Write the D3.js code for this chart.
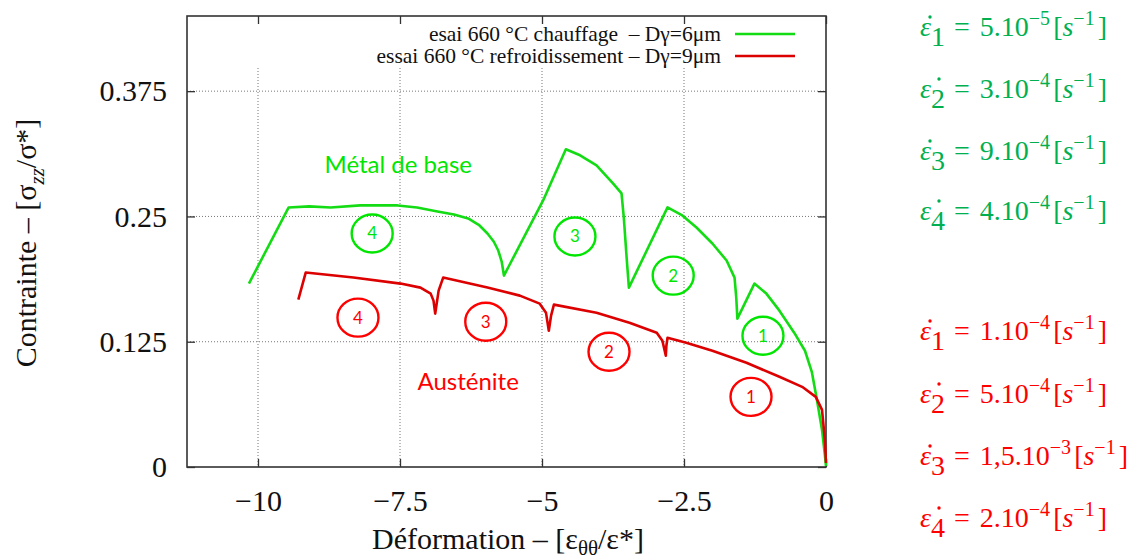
<!DOCTYPE html>
<html><head><meta charset="utf-8">
<script src="https://cdn.jsdelivr.net/npm/d3@7"></script>
<style>body{margin:0;background:#fff}svg{display:block}</style>
</head><body>
<svg id="chart" width="1138" height="560"></svg>
<script>
// ---- data ----
const xTicks = [-10, -7.5, -5, -2.5, 0];
const yTicks = [0, 0.125, 0.25, 0.375];
const xGrid = [-10, -7.5, -5, -2.5];
const yGrid = [0.125, 0.25, 0.375];

// essai 660 °C chauffage (green) : [deformation, contrainte]
const chauffage = [
 [-10.16,0.183],[-9.46,0.259],[-9.1,0.260],[-8.72,0.259],[-8.2,0.261],[-7.54,0.261],
 [-7.2,0.259],[-6.84,0.255],[-6.55,0.252],[-6.30,0.248],[-6.10,0.241],[-5.96,0.233],
 [-5.85,0.225],[-5.77,0.216],[-5.71,0.205],[-5.67,0.191],[-4.98,0.266],[-4.58,0.317],
 [-4.33,0.311],[-4.04,0.301],[-3.75,0.283],[-3.60,0.273],[-3.56,0.249],[-3.51,0.209],
 [-3.47,0.179],[-2.79,0.259],[-2.53,0.251],[-2.28,0.239],[-2.00,0.223],[-1.75,0.206],
 [-1.61,0.189],[-1.58,0.169],[-1.56,0.148],[-1.26,0.183],[-1.05,0.173],[-0.82,0.156],
 [-0.56,0.134],[-0.37,0.116],[-0.25,0.095],[-0.16,0.067],[-0.07,0.037],[-0.02,0.012],[0,0.001]
];
// essai 660 °C refroidissement (red)
const refroidissement = [
 [-9.29,0.167],[-9.16,0.194],[-8.32,0.189],[-7.49,0.183],[-7.14,0.179],[-6.96,0.173],
 [-6.91,0.166],[-6.88,0.153],[-6.82,0.176],[-6.74,0.189],[-5.96,0.179],[-5.39,0.171],
 [-5.04,0.163],[-4.93,0.154],[-4.88,0.136],[-4.84,0.151],[-4.79,0.162],[-4.04,0.154],
 [-3.46,0.144],[-2.98,0.134],[-2.88,0.126],[-2.82,0.111],[-2.81,0.121],[-2.79,0.129],
 [-2.46,0.124],[-2.00,0.116],[-1.40,0.104],[-0.82,0.090],[-0.42,0.080],[-0.18,0.070],
 [-0.07,0.057],[-0.02,0.027],[0,0.004]
];
const legendLabels = ["esai 660 °C chauffage  – Dγ=6μm", "essai 660 °C refroidissement – Dγ=9μm"];

// circled step numbers [x, y, label]
const greenSteps = [[-7.99,0.233,"4"],[-4.42,0.230,"3"],[-2.69,0.191,"2"],[-1.11,0.131,"1"]];
const redSteps = [[-8.24,0.149,"4"],[-5.99,0.145,"3"],[-3.82,0.115,"2"],[-1.32,0.070,"1"]];
const regionLabels = [[-7.53,0.301,"Métal de base","g"],[-6.30,0.085,"Austénite","r"]];

// strain rates
const greenRateSub = ["1","2","3","4"];
const greenRateMant = ["5.10","3.10","9.10","4.10"];
const greenRateExp = ["−5","−4","−4","−4"];
const redRateSub = ["1","2","3","4"];
const redRateMant = ["1.10","5.10","1,5.10","2.10"];
const redRateExp = ["−4","−4","−3","−4"];

// ---- layout ----
const svg = d3.select("#chart");
const L = 187, R = 826, T = 16, B = 467;
const x = d3.scaleLinear().domain([-11.25, 0]).range([L, R]);
const y = d3.scaleLinear().domain([0, 0.45]).range([B, T]);
const GREEN = "#14dc14", RED = "#dc0000";
const ANN_G = "#00e600", ANN_R = "#ff0000";
const serif = "'Liberation Serif','Times New Roman',serif";
const fmt = d3.format("");

// grid
const grid = svg.append("g");
grid.selectAll("line.gx").data(xGrid).join("line")
  .attr("x1", d => x(d)).attr("x2", d => x(d)).attr("y1", 68).attr("y2", B)
  .attr("stroke", "#777").attr("stroke-width", 1).attr("stroke-dasharray", "1,2");
grid.selectAll("line.gy").data(yGrid).join("line")
  .attr("x1", L).attr("x2", R).attr("y1", d => y(d)).attr("y2", d => y(d))
  .attr("stroke", "#777").attr("stroke-width", 1).attr("stroke-dasharray", "1,2");

// axes
function styleAxis(g){
  g.select(".domain").remove();
  g.selectAll(".tick line").attr("stroke", "#333").attr("stroke-width", 1.3);
  g.selectAll("text").attr("font-family", serif).attr("font-size", 30).attr("fill", "#111");
}
svg.append("g").attr("transform", `translate(0,${B})`)
  .call(d3.axisBottom(x).tickValues(xTicks).tickSize(-8).tickPadding(23).tickFormat(fmt)).call(styleAxis);
svg.append("g").attr("transform", `translate(0,${T})`)
  .call(d3.axisTop(x).tickValues(xTicks).tickSize(-8).tickFormat("")).call(styleAxis);
svg.append("g").attr("transform", `translate(${L},0)`)
  .call(d3.axisLeft(y).tickValues(yTicks).tickSize(-8).tickPadding(20).tickFormat(fmt)).call(styleAxis);
svg.append("g").attr("transform", `translate(${R},0)`)
  .call(d3.axisRight(y).tickValues(yTicks).tickSize(-8).tickFormat("")).call(styleAxis);

svg.append("rect").attr("x", L).attr("y", T).attr("width", R - L).attr("height", B - T)
  .attr("fill", "none").attr("stroke", "#333").attr("stroke-width", 1.6);

// curves
const line = d3.line().x(d => x(d[0])).y(d => y(d[1]));
svg.append("path").datum(chauffage).attr("d", line).attr("fill", "none")
  .attr("stroke", GREEN).attr("stroke-width", 2.6).attr("stroke-linejoin", "round");
svg.append("path").datum(refroidissement).attr("d", line).attr("fill", "none")
  .attr("stroke", RED).attr("stroke-width", 2.6).attr("stroke-linejoin", "round");

// legend
const lg = svg.append("g");
[GREEN, RED].forEach((c, i) => {
  lg.append("text").attr("x", 721).attr("y", 41 + i * 22).attr("text-anchor", "end")
    .style("white-space", "pre")
    .attr("font-family", serif).attr("font-size", 21.5).attr("fill", "#111").text(legendLabels[i]);
  lg.append("line").attr("x1", 735).attr("x2", 795).attr("y1", 34 + i * 22).attr("y2", 34 + i * 22)
    .attr("stroke", c).attr("stroke-width", 2.6);
});

// circled numbers
const sans = "'Lato','Open Sans',sans-serif";
function steps(data, color){
  const g = svg.append("g");
  g.selectAll("ellipse").data(data).join("ellipse")
    .attr("cx", d => x(d[0])).attr("cy", d => y(d[1])).attr("rx", 20.5).attr("ry", 19)
    .attr("fill", "none").attr("stroke", color).attr("stroke-width", 2.4);
  g.selectAll("text").data(data).join("text")
    .attr("x", d => x(d[0])).attr("y", d => y(d[1]) + 6).attr("text-anchor", "middle")
    .attr("font-family", sans).attr("font-size", 17).attr("fill", color).text(d => d[2]);
}
steps(greenSteps, ANN_G);
steps(redSteps, ANN_R);

svg.selectAll("text.region").data(regionLabels).join("text").attr("class", "region")
  .attr("x", d => x(d[0])).attr("y", d => y(d[1]) + 8).attr("text-anchor", "middle")
  .attr("font-family", sans).attr("font-size", 24).attr("fill", d => d[3] === "g" ? ANN_G : ANN_R)
  .text(d => d[2]);

// axis titles
const xt = svg.append("text").attr("x", 508).attr("y", 549).attr("text-anchor", "middle")
  .attr("font-family", serif).attr("font-size", 30).attr("fill", "#111");
xt.append("tspan").text("Déformation – [ε");
xt.append("tspan").attr("font-size", 21).attr("dy", 6).text("θθ");
xt.append("tspan").attr("dy", -6).text("/ε*]");

const yt = svg.append("text").attr("transform", "translate(36,243) rotate(-90)").attr("text-anchor", "middle")
  .attr("font-family", serif).attr("font-size", 30).attr("fill", "#111");
yt.append("tspan").text("Contrainte – [σ");
yt.append("tspan").attr("font-size", 21).attr("font-style", "italic").attr("dy", 8).text("zz");
yt.append("tspan").attr("dy", -8).text("/σ*]");

// strain-rate equations
function rates(subs, mants, exps, baselines, color, dotShifts){
  subs.forEach((s, i) => {
    const yb = baselines[i];
    const t = svg.append("text").attr("x", 920).attr("y", yb)
      .attr("font-family", serif).attr("font-size", 28).attr("fill", color);
    t.append("tspan").attr("font-style", "italic").text("ε");
    t.append("tspan").attr("dy", 10).text(s);
    t.append("tspan").attr("dy", -10).attr("dx", 9).text("=");
    t.append("tspan").attr("dx", 10).text(mants[i]);
    t.append("tspan").attr("font-size", 20).attr("dy", -11).text(exps[i]);
    t.append("tspan").attr("font-size", 28).attr("dy", 11).attr("dx", 3).text("[");
    t.append("tspan").attr("font-style", "italic").text("s");
    t.append("tspan").attr("font-size", 20).attr("dy", -11).text("−1");
    t.append("tspan").attr("font-size", 28).attr("dy", 11).attr("dx", 3).text("]");
    // dot accent of the time derivative
    svg.append("circle").attr("cx", 930 + dotShifts[i]).attr("cy", yb - 19).attr("r", 1.7)
      .attr("fill", color);
  });
}
rates(greenRateSub, greenRateMant, greenRateExp, [36, 98, 160, 220], "#00b050", [0, 9, 0, 9]);
rates(redRateSub, redRateMant, redRateExp, [340, 403, 465, 527], "#ff0000", [0, 9, 0, 9]);
</script>
</body></html>
